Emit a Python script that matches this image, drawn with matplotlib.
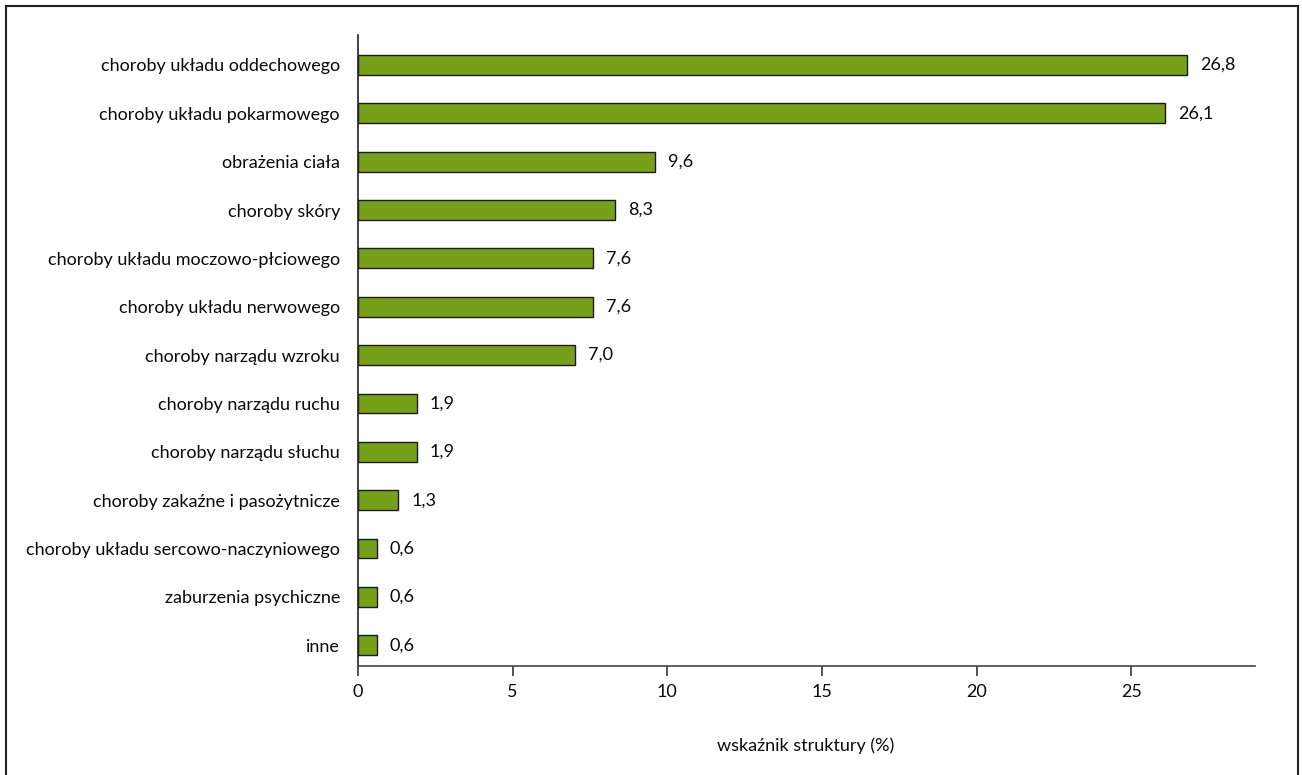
import matplotlib
matplotlib.use("Agg")
import matplotlib.pyplot as plt
from matplotlib.patches import Rectangle

plt.rcParams['font.family'] = ['Lato', 'DejaVu Sans']

categories = [
    "choroby układu oddechowego",
    "choroby układu pokarmowego",
    "obrażenia ciała",
    "choroby skóry",
    "choroby układu moczowo-płciowego",
    "choroby układu nerwowego",
    "choroby narządu wzroku",
    "choroby narządu ruchu",
    "choroby narządu słuchu",
    "choroby zakaźne i pasożytnicze",
    "choroby układu sercowo-naczyniowego",
    "zaburzenia psychiczne",
    "inne",
]
values = [26.8, 26.1, 9.6, 8.3, 7.6, 7.6, 7.0, 1.9, 1.9, 1.3, 0.6, 0.6, 0.6]
value_labels = ["26,8", "26,1", "9,6", "8,3", "7,6", "7,6", "7,0",
                "1,9", "1,9", "1,3", "0,6", "0,6", "0,6"]
xticks = [0, 5, 10, 15, 20, 25]
xlabel = "wskaźnik struktury (%)"

FS = 13

fig = plt.figure(figsize=(13.02, 7.75), dpi=100)
ax = fig.add_axes([358 / 1302, 1 - 666 / 775, (1255 - 358) / 1302, (666 - 35) / 775])

n = len(categories)
ypos = [n - 1 - i for i in range(n)]
ax.barh(ypos, values, height=0.41, color="#76a01a", edgecolor="#1a1a1a", linewidth=1.0)

for y, v, lab in zip(ypos, values, value_labels):
    ax.text(v + 0.42, y, lab, va="center", ha="left", fontsize=FS, color="#0a0a0a")

ax.set_xlim(0, 29)
ax.set_ylim(-0.43, n - 1 + 0.62)
ax.set_yticks(ypos)
ax.set_yticklabels(categories, fontsize=FS, color="#0a0a0a")
ax.set_xticks(xticks)
ax.set_xticklabels([str(t) for t in xticks], fontsize=FS, color="#0a0a0a")
ax.tick_params(axis="y", length=0, pad=13)
ax.tick_params(axis="x", length=7, width=1.2, direction="out", pad=6, color="#333333")

for s in ("top", "right"):
    ax.spines[s].set_visible(False)
ax.spines["left"].set_linewidth(1.2)
ax.spines["bottom"].set_linewidth(1.2)
ax.spines["left"].set_color("#222222")
ax.spines["bottom"].set_color("#444444")

fig.text(806 / 1302, 1 - 746 / 775, xlabel, ha="center", va="center",
         fontsize=FS, color="#0a0a0a")

# frame around the figure, open at the bottom edge
fig.patches.append(Rectangle((6 / 1302, -0.05), (1298 - 6) / 1302, 1.05 - 6 / 775,
                             transform=fig.transFigure, fill=False,
                             edgecolor="#222222", linewidth=1.5, clip_on=False))

fig.savefig("out.png", dpi=100)
